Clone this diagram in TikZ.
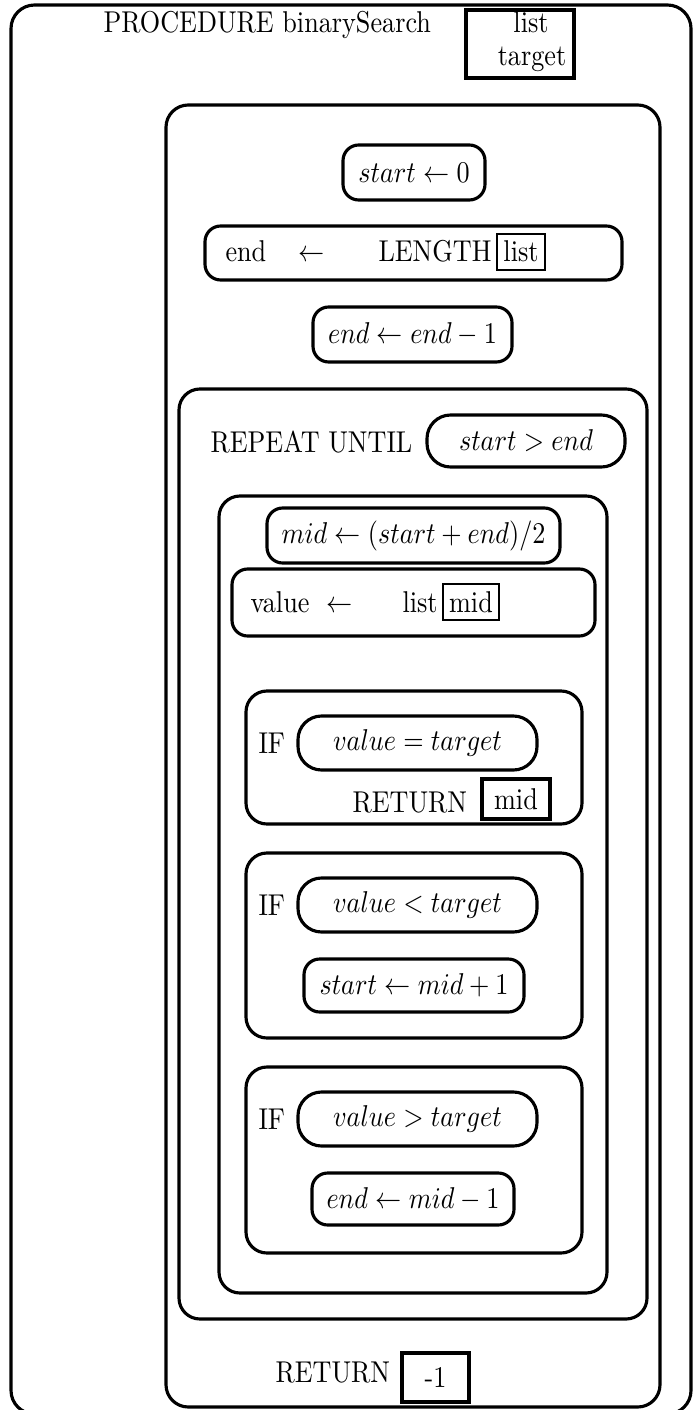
\documentclass[tikz,border=0pt]{standalone}
\usepackage{amsmath}
\def\pxu{0.382pt}
\def\ystr{1.15}

\begin{document}
\begin{tikzpicture}[x=0.382pt, y=-0.382pt,
  every node/.append style={yscale=\ystr},
  sz/.style 2 args={minimum width=#1*\pxu, minimum height=#2*\pxu/\ystr},
  frm/.style={draw, very thick, rounded corners=#1, inner sep=0pt},
  stmt/.style={draw, very thick, rounded corners=6pt, inner sep=0pt},
  cnd/.style={draw, very thick, rounded corners=9pt, inner sep=0pt},
  arg/.style={draw, thick, inner sep=2.4pt, anchor=base},
  ret/.style={draw, very thick, inner sep=0pt},
  kw/.style={anchor=base west, inner sep=0pt},
  txt/.style={anchor=base, inner sep=0pt}
]
\useasboundingbox (0,0) rectangle (695,1410);

%% -- procedure frame and header
\node[frm=9pt, sz={680}{1409}] (outer) at (351,709.5) {};
\node[kw] (title) at (103,33) {PROCEDURE binarySearch};
\node[ret, sz={108}{68}] (params) at (520,44) {};
\node[txt] (plist) at (531,33) {list};
\node[txt] (ptarget) at (532,66) {target};

%% -- procedure body
\node[frm=8.5pt, sz={494}{1302}] (body) at (413,756) {};
\node[stmt, sz={142}{55}] (init) at (414,172.5) {$start \leftarrow 0$};
\node[stmt, sz={417}{54}] (lenbox) at (413.5,253) {};
\node[kw] (lenvar) at (225,262) {end};
\node[kw] (lenarr) at (298,262) {$\leftarrow$};
\node[kw] (lenfn) at (378,262) {LENGTH};
\node[arg] (lenarg) at (521,262) {list};
\node[stmt, sz={199}{55}] (dec) at (412.5,334.5) {$end \leftarrow end - 1$};

%% -- repeat loop
\node[frm=8pt, sz={468}{930}] (loop) at (413,854) {};
\node[kw] (repeat) at (210,452) {REPEAT UNTIL};
\node[cnd, sz={198}{52}] (until) at (526,441) {$start > end$};
\node[frm=8pt, sz={388}{797}] (lbody) at (413,894.5) {};
\node[stmt, sz={293}{55}] (midcalc) at (413.5,535.5) {$mid \leftarrow (start + end)/2$};
\node[stmt, sz={363}{67}] (valbox) at (413.5,602.5) {};
\node[kw] (valvar) at (250,612) {value};
\node[kw] (valarr) at (326,612) {$\leftarrow$};
\node[kw] (valfn) at (402,612) {list};
\node[arg] (valarg) at (471,612) {mid};

%% -- IF blocks
\foreach \i/\top/\h/\rel in {1/691/133/=, 2/853/185/<, 3/1067/186/>}{
  \node[frm=8pt, sz={336}{\h}] (if\i) at (414,\top+\h/2) {};
  \node[kw] (iflbl\i) at (258,\top+62) {IF};
  \node[cnd, sz={239}{54}] (cond\i) at (417.5,\top+52) {$value \rel target$};
}
\node[kw] (ret1) at (352,812) {RETURN};
\node[ret, sz={68}{40}] (retmid) at (516,799) {mid};
\node[stmt, sz={220}{53}] (incr) at (414,985.5) {$start \leftarrow mid + 1$};
\node[stmt, sz={202}{52}] (decr) at (413,1199) {$end \leftarrow mid - 1$};

%% -- not found
\node[kw] (retfin) at (275,1382) {RETURN};
\node[ret, sz={67}{49}] (retval) at (435.5,1377.5) {-1};

\end{tikzpicture}
\end{document}
